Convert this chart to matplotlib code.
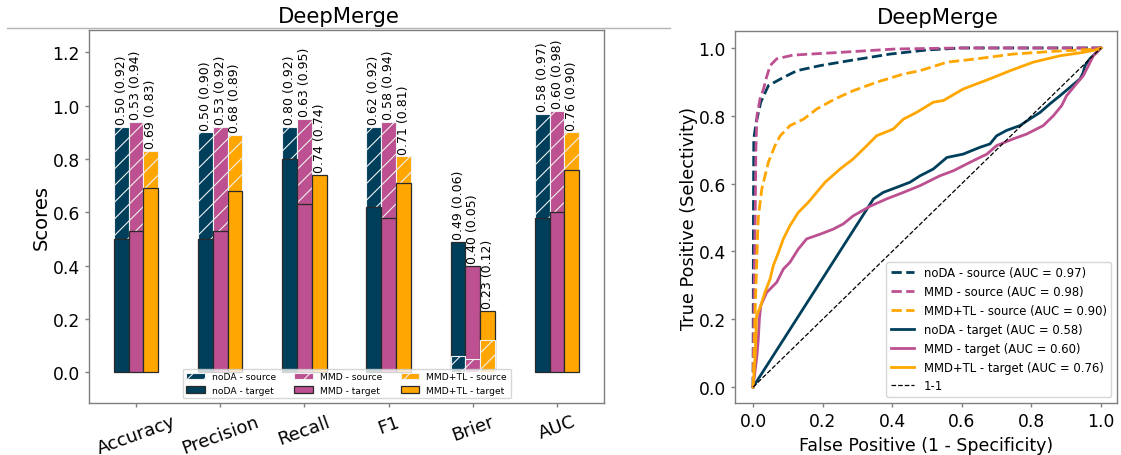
import matplotlib
matplotlib.use("Agg")
import matplotlib.pyplot as plt
from matplotlib.lines import Line2D
import numpy as np

# ---------------- data ----------------
metrics = ["Accuracy", "Precision", "Recall", "F1", "Brier", "AUC"]
models = ["noDA", "MMD", "MMD+TL"]
colors = ["#003f5c", "#bc5090", "#ffa600"]

source_noDA = [0.92, 0.90, 0.92, 0.92, 0.06, 0.97]
source_MMD = [0.94, 0.92, 0.95, 0.94, 0.05, 0.98]
source_TL = [0.83, 0.89, 0.74, 0.81, 0.12, 0.90]
target_noDA = [0.50, 0.50, 0.80, 0.62, 0.49, 0.58]
target_MMD = [0.53, 0.53, 0.63, 0.58, 0.40, 0.60]
target_TL = [0.69, 0.68, 0.74, 0.71, 0.23, 0.76]

auc_source = [0.97, 0.98, 0.90]
auc_target = [0.58, 0.60, 0.76]

# ROC curves
fpr_noDA_src = [0, 0.001, 0.002, 0.009, 0.022, 0.044, 0.087, 0.126, 0.193, 0.279, 0.394, 0.499, 0.60, 1.0]
tpr_noDA_src = [0, 0.496, 0.732, 0.781, 0.840, 0.889, 0.913, 0.933, 0.948, 0.963, 0.982, 0.994, 1.0, 1.0]

fpr_MMD_src = [0, 0.003, 0.006, 0.008, 0.011, 0.020, 0.030, 0.037, 0.049, 0.068, 0.115, 0.25, 0.41, 0.60, 1.0]
tpr_MMD_src = [0, 0.30, 0.50, 0.70, 0.80, 0.85, 0.879, 0.908, 0.948, 0.968, 0.979, 0.987, 0.997, 1.0, 1.0]

fpr_TL_src = [0, 0.003, 0.006, 0.010, 0.013, 0.015, 0.025, 0.044, 0.063, 0.078, 0.106, 0.145, 0.183,
              0.236, 0.288, 0.355, 0.432, 0.48, 0.557, 0.643, 0.748, 0.863, 0.997, 1.0]
tpr_TL_src = [0, 0.10, 0.23, 0.35, 0.45, 0.50, 0.584, 0.663, 0.712, 0.741, 0.771, 0.790, 0.820,
              0.850, 0.874, 0.899, 0.923, 0.933, 0.958, 0.968, 0.982, 0.990, 0.997, 1.0]

fpr_noDA_tgt = [0, 0.346, 0.374, 0.413, 0.451, 0.48, 0.518, 0.557, 0.604, 0.652, 0.681, 0.700, 0.729,
                0.767, 0.796, 0.825, 0.853, 0.882, 0.911, 0.940, 0.949, 0.954, 0.968, 1.0]
tpr_noDA_tgt = [0, 0.555, 0.574, 0.589, 0.604, 0.623, 0.643, 0.677, 0.687, 0.707, 0.717, 0.741, 0.757,
                0.771, 0.791, 0.810, 0.835, 0.859, 0.884, 0.909, 0.928, 0.948, 0.968, 1.0]

fpr_MMD_tgt = [0, 0.011, 0.015, 0.018, 0.022, 0.039, 0.068, 0.087, 0.106, 0.130, 0.154, 0.193, 0.231,
               0.259, 0.288, 0.336, 0.384, 0.432, 0.48, 0.537, 0.576, 0.624, 0.672, 0.700, 0.748,
               0.786, 0.834, 0.863, 0.887, 0.901, 0.925, 0.949, 0.964, 0.978, 1.0]
tpr_MMD_tgt = [0, 0.092, 0.142, 0.200, 0.240, 0.279, 0.309, 0.348, 0.368, 0.407, 0.437, 0.451, 0.466,
               0.481, 0.505, 0.533, 0.555, 0.574, 0.594, 0.623, 0.638, 0.663, 0.687, 0.712, 0.732,
               0.746, 0.771, 0.800, 0.830, 0.859, 0.889, 0.918, 0.948, 0.977, 1.0]

fpr_TL_tgt = [0, 0.006, 0.009, 0.010, 0.022, 0.034, 0.049, 0.058, 0.073, 0.087, 0.106, 0.130, 0.159,
              0.207, 0.250, 0.288, 0.327, 0.355, 0.403, 0.432, 0.470, 0.518, 0.547, 0.604, 0.681,
              0.739, 0.805, 0.882, 0.949, 0.988, 1.0]
tpr_TL_tgt = [0, 0.092, 0.181, 0.210, 0.240, 0.279, 0.319, 0.358, 0.397, 0.437, 0.476, 0.515, 0.545,
              0.604, 0.643, 0.673, 0.712, 0.741, 0.761, 0.790, 0.810, 0.840, 0.845, 0.879, 0.909,
              0.933, 0.958, 0.977, 0.987, 0.995, 1.0]

# ---------------- figure ----------------
plt.rcParams['font.family'] = ['DejaVu Sans']
plt.rcParams['hatch.linewidth'] = 0.8
fig = plt.figure(figsize=(11.21, 4.56), dpi=100)
W, H = 1121, 456

def axrect(x0, x1, ytop, ybot):
    return [x0 / W, 1 - ybot / H, (x1 - x0) / W, (ybot - ytop) / H]

ax1 = fig.add_axes(axrect(89, 604, 31.4, 404))
ax2 = fig.add_axes(axrect(735, 1117, 32, 404))

spine_col = "#7f7f7f"
for ax in (ax1, ax2):
    for s in ax.spines.values():
        s.set_color(spine_col)
        s.set_linewidth(1.0)
    ax.tick_params(colors=spine_col, labelcolor="black", length=3, width=1, labelsize=12.3)

# ---- bar chart ----
sources = [source_noDA, source_MMD, source_TL]
targets = [target_noDA, target_MMD, target_TL]
x = np.arange(len(metrics))
bw = 0.175
offsets = [-bw, 0, bw]
src_handles, tgt_handles = [], []
for k in range(3):
    src = np.array(sources[k])
    tgt = np.array(targets[k])
    for i in range(len(metrics)):
        src_on_top = src[i] < tgt[i]
        bs = ax1.bar(x[i] + offsets[k], src[i], bw, color=colors[k], edgecolor="#f0f0f0",
                     hatch="//", linewidth=0.8, zorder=3 if src_on_top else 2)
        bt = ax1.bar(x[i] + offsets[k], tgt[i], bw, color=colors[k], edgecolor="#2a2a2a",
                     linewidth=0.9, zorder=2 if src_on_top else 3)
        top = max(src[i], tgt[i])
        ax1.annotate(f"{tgt[i]:.2f} ({src[i]:.2f})", (x[i] + offsets[k], top),
                     xytext=(0, 2), textcoords="offset points", rotation=90,
                     ha="center", va="bottom", fontsize=9, zorder=5)
    src_handles.append(bs)
    tgt_handles.append(bt)

ax1.set_xlim(-0.558, 5.558)
ax1.set_ylim(-0.115, 1.282)
ax1.set_yticks([0.0, 0.2, 0.4, 0.6, 0.8, 1.0, 1.2])
ax1.set_xticks(x)
ax1.set_xticklabels(metrics, rotation=20, fontsize=13)
ax1.set_ylabel("Scores", fontsize=14, labelpad=1.5)
ax1.set_title("DeepMerge", fontsize=15.3, x=0.4845)

handles = []
labels = []
for k in range(3):
    handles += [src_handles[k], tgt_handles[k]]
    labels += [f"{models[k]} - source", f"{models[k]} - target"]
ax1.legend(handles, labels, loc="lower center", ncol=3, fontsize=6.6)

# ---- ROC ----
ax2.plot(fpr_noDA_src, tpr_noDA_src, "--", color=colors[0], lw=2, label=f"noDA - source (AUC = {auc_source[0]:.2f})")
ax2.plot(fpr_MMD_src, tpr_MMD_src, "--", color=colors[1], lw=2, label=f"MMD - source (AUC = {auc_source[1]:.2f})")
ax2.plot(fpr_TL_src, tpr_TL_src, "--", color=colors[2], lw=2, label=f"MMD+TL - source (AUC = {auc_source[2]:.2f})")
ax2.plot(fpr_noDA_tgt, tpr_noDA_tgt, "-", color=colors[0], lw=2, label=f"noDA - target (AUC = {auc_target[0]:.2f})")
ax2.plot(fpr_MMD_tgt, tpr_MMD_tgt, "-", color=colors[1], lw=2, label=f"MMD - target (AUC = {auc_target[1]:.2f})")
ax2.plot(fpr_TL_tgt, tpr_TL_tgt, "-", color=colors[2], lw=2, label=f"MMD+TL - target (AUC = {auc_target[2]:.2f})")
ax2.plot([0, 1], [0, 1], "--", color="black", lw=0.9, label="1-1")
ax2.set_xlim(-0.052, 1.046)
ax2.set_ylim(-0.047, 1.050)
ax2.set_xticks([0, 0.2, 0.4, 0.6, 0.8, 1.0])
ax2.set_yticks([0, 0.2, 0.4, 0.6, 0.8, 1.0])
ax2.set_xlabel("False Positive (1 - Specificity)", fontsize=12.5)
ax2.set_ylabel("True Positive (Selectivity)", fontsize=12.7, labelpad=0.5)
ax2.set_title("DeepMerge", fontsize=15.3, x=0.53)
ax2.legend(loc="lower right", fontsize=8.4)

# thin gray rule across the top of the left panel
fig.add_artist(Line2D([7 / W, 670 / W], [1 - 28.6 / H, 1 - 28.6 / H], color="#b5b5b5", lw=1.0))

fig.savefig("out.png", dpi=100)
